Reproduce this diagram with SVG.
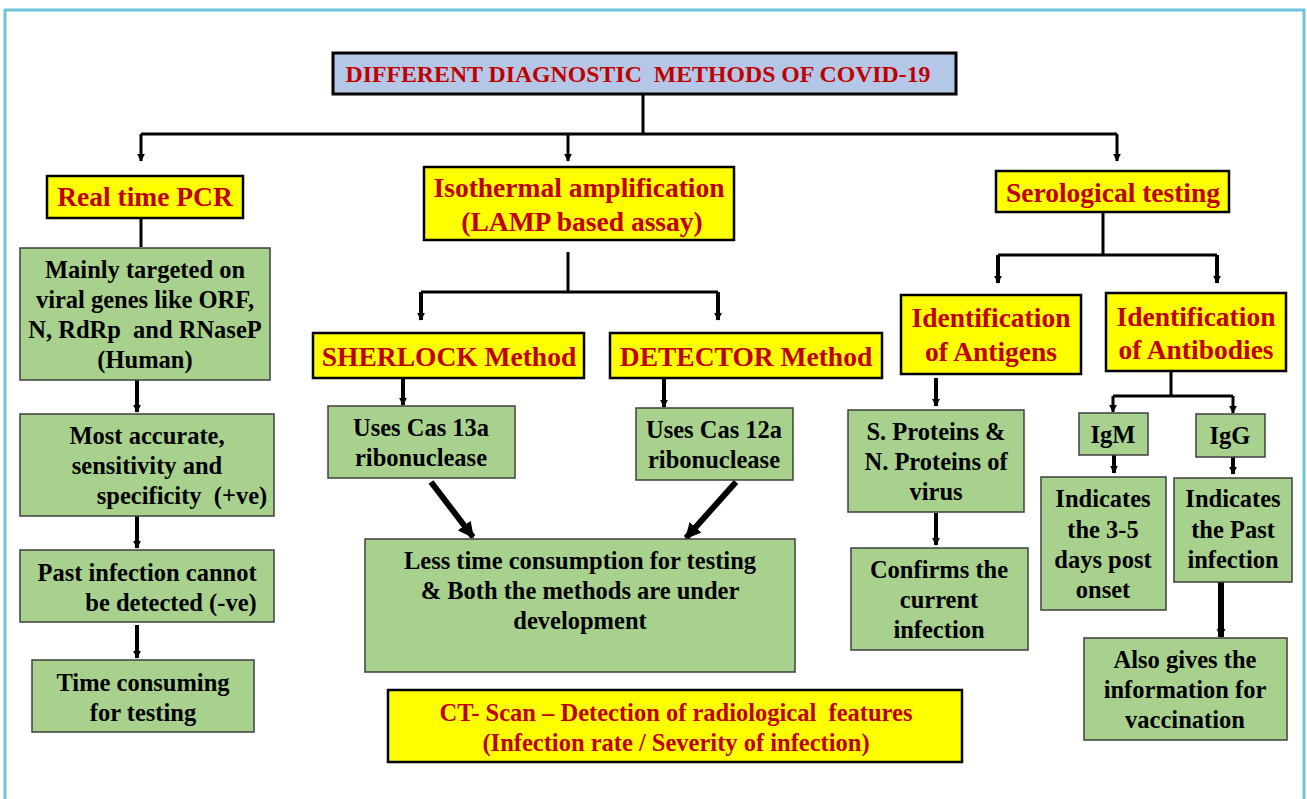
<svg xmlns="http://www.w3.org/2000/svg" width="1307" height="799" viewBox="0 0 1307 799">
<defs>
<style>
.frame{fill:#fff;stroke:#6cc5da;stroke-width:3}
.title{fill:#b4c7e7;stroke:#000;stroke-width:3}
.yb{fill:#ffff00;stroke:#000;stroke-width:2.5}
.gb{fill:#a9d18e;stroke:#3f3f3f;stroke-width:1.5}
.ln{fill:none;stroke:#000;stroke-width:3}
.mid{fill:none;stroke:#000;stroke-width:4}
.thick{fill:none;stroke:#000;stroke-width:6}
text{font-family:"Liberation Serif","Times New Roman",serif;font-weight:bold;text-anchor:middle}
.rt{fill:#c00000;font-size:27.5px}
.rs{fill:#c00000;font-size:24.5px}
.tt{fill:#c00000;font-size:23.8px}
.bt{fill:#000;font-size:24.5px}
</style>
<marker id="ah" viewBox="0 0 10 10" refX="9" refY="5" markerWidth="8" markerHeight="9" orient="auto" markerUnits="userSpaceOnUse">
<path d="M0,0 L10,5 L0,10 z" fill="#000"/>
</marker>
<marker id="ahb" viewBox="0 0 10 10" refX="9" refY="5" markerWidth="16" markerHeight="17" orient="auto" markerUnits="userSpaceOnUse">
<path d="M0,0 L10,5 L0,10 z" fill="#000"/>
</marker>
<marker id="ahm" viewBox="0 0 10 10" refX="9" refY="5" markerWidth="9" markerHeight="12" orient="auto" markerUnits="userSpaceOnUse">
<path d="M0,0 L10,5 L0,10 z" fill="#000"/>
</marker>
</defs>
<rect class="frame" x="5" y="10" width="1299" height="800"/>

<g id="connectors">
<path class="ln" d="M643,94 V134 M141,134 H1117"/>
<path class="ln" d="M141,134 V161" marker-end="url(#ah)"/>
<path class="ln" d="M568,134 V161" marker-end="url(#ah)"/>
<path class="ln" d="M1117,134 V161" marker-end="url(#ah)"/>
<path class="ln" d="M141,218 V247"/>
<path class="mid" d="M137,380 V412" marker-end="url(#ah)"/>
<path class="mid" d="M137,516 V548" marker-end="url(#ah)"/>
<path class="mid" d="M137,625 V658" marker-end="url(#ah)"/>
<path class="ln" d="M568,252 V292 M421,292 H718"/>
<path class="mid" d="M421,292 V320" marker-end="url(#ah)"/>
<path class="mid" d="M718,292 V320" marker-end="url(#ah)"/>
<path class="mid" d="M403,378 V405" marker-end="url(#ah)"/>
<path class="mid" d="M664,378 V407" marker-end="url(#ah)"/>
<path class="thick" d="M431,482 L473,537" marker-end="url(#ahb)"/>
<path class="thick" d="M736,482 L686,538" marker-end="url(#ahb)"/>
<path class="ln" d="M1103,212 V255 M998,255 H1217"/>
<path class="mid" d="M998,255 V283" marker-end="url(#ah)"/>
<path class="mid" d="M1217,255 V283" marker-end="url(#ah)"/>
<path class="mid" d="M936,378 V406" marker-end="url(#ah)"/>
<path class="mid" d="M936,513 V545" marker-end="url(#ah)"/>
<path class="ln" d="M1171,371 V396 M1113,396 H1233"/>
<path class="ln" d="M1113,396 V412" marker-end="url(#ah)"/>
<path class="ln" d="M1233,396 V413" marker-end="url(#ah)"/>
<path class="mid" d="M1114,455 V473" marker-end="url(#ah)"/>
<path class="mid" d="M1233,457 V474" marker-end="url(#ah)"/>
<path class="thick" d="M1221,582 V637" marker-end="url(#ahm)"/>
</g>

<g id="title"><rect class="title" x="333" y="53" width="623" height="41"/>
<text class="tt" x="638" y="82" xml:space="preserve">DIFFERENT DIAGNOSTIC  METHODS OF COVID-19</text></g>

<g id="pcr"><rect class="yb" x="47" y="176" width="196" height="42"/>
<text class="rt" x="145" y="206">Real time PCR</text></g>

<g id="isothermal"><rect class="yb" x="424" y="167" width="310" height="73"/>
<text class="rt" x="579" y="197">Isothermal amplification</text>
<text class="rt" x="582" y="231">(LAMP based assay)</text></g>

<g id="serological"><rect class="yb" x="996" y="171" width="233" height="41"/>
<text class="rt" x="1113" y="202">Serological testing</text></g>

<g id="pcr1"><rect class="gb" x="20" y="248" width="250" height="132"/>
<text class="bt" x="145" y="278">Mainly targeted on</text>
<text class="bt" x="145" y="308">viral genes like ORF,</text>
<text class="bt" x="145" y="338" xml:space="preserve">N, RdRp  and RNaseP</text>
<text class="bt" x="145" y="368">(Human)</text></g>

<g id="pcr2"><rect class="gb" x="20" y="414" width="254" height="102"/>
<text class="bt" x="147" y="444">Most accurate,</text>
<text class="bt" x="147" y="474">sensitivity and</text>
<text class="bt" x="182" y="504" xml:space="preserve">specificity  (+ve)</text></g>

<g id="pcr3"><rect class="gb" x="20" y="550" width="254" height="72"/>
<text class="bt" x="147" y="581">Past infection cannot</text>
<text class="bt" x="171" y="611">be detected (-ve)</text></g>

<g id="pcr4"><rect class="gb" x="32" y="660" width="222" height="72"/>
<text class="bt" x="143" y="691">Time consuming</text>
<text class="bt" x="143" y="721">for testing</text></g>

<g id="sherlock"><rect class="yb" x="313" y="333" width="271" height="45"/>
<text class="rt" x="449" y="366">SHERLOCK Method</text></g>

<g id="detector"><rect class="yb" x="610" y="333" width="272" height="45"/>
<text class="rt" x="746" y="366">DETECTOR Method</text></g>

<g id="cas13"><rect class="gb" x="328" y="406" width="187" height="72"/>
<text class="bt" x="421" y="436">Uses Cas 13a</text>
<text class="bt" x="421" y="466">ribonuclease</text></g>

<g id="cas12"><rect class="gb" x="636" y="408" width="157" height="72"/>
<text class="bt" x="714" y="438">Uses Cas 12a</text>
<text class="bt" x="714" y="468">ribonuclease</text></g>

<g id="less"><rect class="gb" x="365" y="539" width="430" height="133"/>
<text class="bt" x="580" y="569">Less time consumption for testing</text>
<text class="bt" x="580" y="599">&amp; Both the methods are under</text>
<text class="bt" x="580" y="629">development</text></g>

<g id="ctscan"><rect class="yb" x="388" y="690" width="574" height="72"/>
<text class="rs" x="676" y="721" xml:space="preserve">CT- Scan – Detection of radiological  features</text>
<text class="rs" x="676" y="751">(Infection rate / Severity of infection)</text></g>

<g id="antigens"><rect class="yb" x="901" y="295" width="180" height="79"/>
<text class="rt" x="991" y="327">Identification</text>
<text class="rt" x="991" y="361">of Antigens</text></g>

<g id="antibodies"><rect class="yb" x="1106" y="293" width="180" height="78"/>
<text class="rt" x="1196" y="326">Identification</text>
<text class="rt" x="1196" y="359">of Antibodies</text></g>

<g id="proteins"><rect class="gb" x="848" y="410" width="176" height="102"/>
<text class="bt" x="936" y="440">S. Proteins &amp;</text>
<text class="bt" x="936" y="470">N. Proteins of</text>
<text class="bt" x="936" y="500">virus</text></g>

<g id="confirms"><rect class="gb" x="851" y="548" width="177" height="102"/>
<text class="bt" x="939" y="578">Confirms the</text>
<text class="bt" x="939" y="608">current</text>
<text class="bt" x="939" y="638">infection</text></g>

<g id="igm"><rect class="gb" x="1079" y="413" width="69" height="42"/>
<text class="bt" x="1113" y="443">IgM</text></g>

<g id="igg"><rect class="gb" x="1196" y="414" width="69" height="43"/>
<text class="bt" x="1230" y="444">IgG</text></g>

<g id="igm-ind"><rect class="gb" x="1041" y="477" width="125" height="133"/>
<text class="bt" x="1103" y="507">Indicates</text>
<text class="bt" x="1103" y="538">the 3-5</text>
<text class="bt" x="1103" y="568">days post</text>
<text class="bt" x="1103" y="598">onset</text></g>

<g id="igg-ind"><rect class="gb" x="1174" y="478" width="118" height="104"/>
<text class="bt" x="1233" y="507">Indicates</text>
<text class="bt" x="1233" y="538">the Past</text>
<text class="bt" x="1233" y="568">infection</text></g>

<g id="vaccination"><rect class="gb" x="1084" y="638" width="203" height="102"/>
<text class="bt" x="1185" y="668">Also gives the</text>
<text class="bt" x="1185" y="698">information for</text>
<text class="bt" x="1185" y="728">vaccination</text></g>
</svg>
